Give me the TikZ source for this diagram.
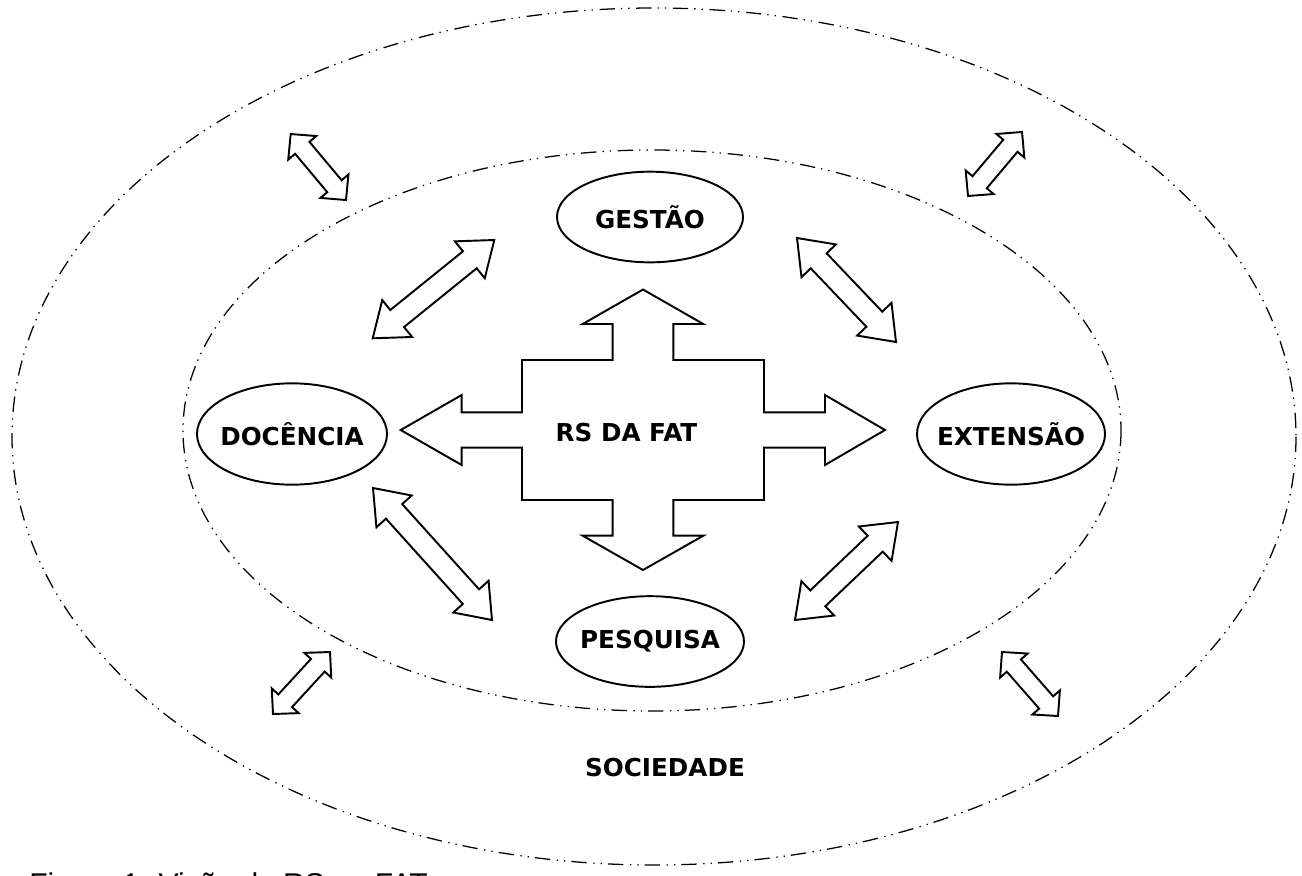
\documentclass[tikz,border=0pt]{standalone}
\usepackage{fontspec}
\setmainfont{DejaVu Sans}
\newfontfamily\capfont{Liberation Sans}
\usetikzlibrary{shapes.geometric,calc}
\newcommand{\dblarrow}[5]{%
\draw[blockarrow] (#1) -- ($(#1)!#3!(#2)!#4!90:(#2)$) -- ($(#1)!#3!(#2)!#5!90:(#2)$)
 -- ($(#2)!#3!(#1)!#5!-90:(#1)$) -- ($(#2)!#3!(#1)!#4!-90:(#1)$) -- (#2)
 -- ($(#2)!#3!(#1)!#4!90:(#1)$) -- ($(#2)!#3!(#1)!#5!90:(#1)$)
 -- ($(#1)!#3!(#2)!#5!-90:(#2)$) -- ($(#1)!#3!(#2)!#4!-90:(#2)$) -- cycle;}
\begin{document}
\begin{tikzpicture}[x=0.75pt,y=-0.75pt,
 ring/.style={line width=0.95pt, dash pattern=on 11.5pt off 4.5pt on 1pt off 4.5pt on 1pt off 5pt},
 topic/.style={draw, ellipse, line width=1.45pt, inner sep=0pt},
 lbl/.style={font=\bfseries\fontsize{18.5}{20}\selectfont, inner sep=0pt},
 blockarrow/.style={draw, line width=1.45pt, line join=miter}]
\useasboundingbox (0,0) rectangle (1302,875);
\fill[white] (0,0) rectangle (1302,875);
\clip (0,0) rectangle (1302,875);
% rings
\draw[ring] (654,436.5) ellipse [x radius=642, y radius=428.5];
\draw[ring] (652,430.5) ellipse [x radius=469, y radius=280.5];
% central cross
\draw[blockarrow] (643,289.5) -- (703.3,324) -- (673.3,324) -- (673.3,360) -- (764,360) -- (764,412.3)
 -- (825,412.3) -- (825,395) -- (885,430) -- (825,465) -- (825,447.7) -- (764,447.7) -- (764,500)
 -- (673.3,500) -- (673.3,535.7) -- (703.3,535.7) -- (643,570) -- (582.7,535.7) -- (612.7,535.7)
 -- (612.7,500) -- (522,500) -- (522,447.7) -- (461.7,447.7) -- (461.7,465) -- (400.7,430)
 -- (461.7,395) -- (461.7,412.3) -- (522,412.3) -- (522,360) -- (612.7,360) -- (612.7,324)
 -- (582.7,324) -- cycle;
\node[lbl] (rs) at (626.5,432.5) {RS DA FAT};
% topic ellipses
\node[topic, minimum width=139.5pt, minimum height=68pt] (gestao) at (650,217) {};
\node[topic, minimum width=142.5pt, minimum height=76pt] (docencia) at (292,434) {};
\node[topic, minimum width=141pt, minimum height=76pt] (extensao) at (1011,434) {};
\node[topic, minimum width=141pt, minimum height=68pt] (pesquisa) at (650,641.5) {};
\node[lbl] (tgestao) at (gestao.center) {GESTÃO};
\node[lbl] (tdocencia) at (docencia.center) {DOCÊNCIA};
\node[lbl] (textensao) at (extensao.center) {EXTENSÃO};
\node[lbl] (tpesquisa) at (pesquisa.center) {PESQUISA};
\node[lbl] (soc) at (665,768) {SOCIEDADE};
% double arrows (tips)
\coordinate (a1s) at (372.7,338.3); \coordinate (a1e) at (494.3,240);
\coordinate (a2s) at (797,238);     \coordinate (a2e) at (896,342);
\coordinate (a3s) at (373,488);     \coordinate (a3e) at (492,620);
\coordinate (a4s) at (795,620);     \coordinate (a4e) at (898,522);
\coordinate (s1s) at (290.7,134);   \coordinate (s1e) at (346,200);
\coordinate (s2s) at (968,196);     \coordinate (s2e) at (1022,132);
\coordinate (s3s) at (273,714);     \coordinate (s3e) at (330,652);
\coordinate (s4s) at (1002,652);    \coordinate (s4e) at (1058,716);
\dblarrow{a1s}{a1e}{23.6pt}{17.8pt}{8.2pt}
\dblarrow{a2s}{a2e}{23.6pt}{17.8pt}{8.2pt}
\dblarrow{a3s}{a3e}{23.6pt}{17.8pt}{8.2pt}
\dblarrow{a4s}{a4e}{23.6pt}{17.8pt}{8.2pt}
\dblarrow{s1s}{s1e}{13.5pt}{13.7pt}{7pt}
\dblarrow{s2s}{s2e}{13.5pt}{13.7pt}{7pt}
\dblarrow{s3s}{s3e}{13.5pt}{13.7pt}{7pt}
\dblarrow{s4s}{s4e}{13.5pt}{13.7pt}{7pt}
% caption (cut by the lower edge, as in the reference)
\node[anchor=base west, inner sep=0pt, font=\capfont\fontsize{22.5}{27}\selectfont] (cap) at (29,894) {Figura 1: Visão da RS na FAT};
\end{tikzpicture}
\end{document}
